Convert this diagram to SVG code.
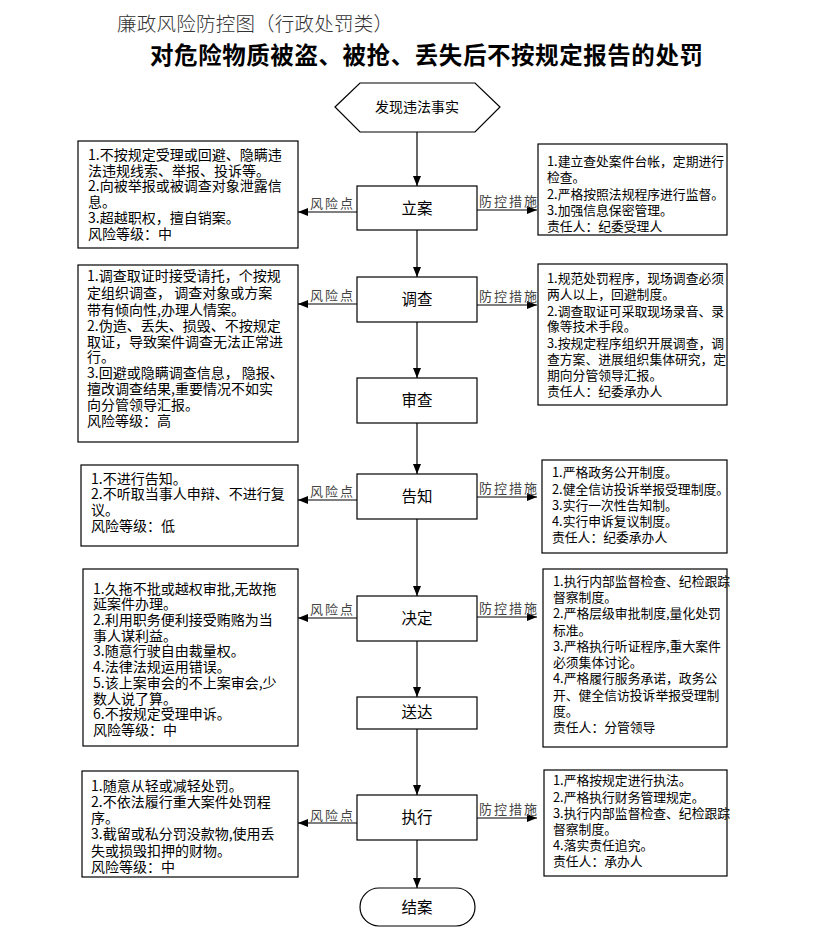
<svg xmlns="http://www.w3.org/2000/svg" width="823" height="942" viewBox="0 0 823 942">
<defs>
<marker id="ah" markerUnits="userSpaceOnUse" markerWidth="10" markerHeight="8" refX="10" refY="4" orient="auto">
<path d="M0,0 L10,4 L0,8 z" fill="#000"/>
</marker>
<style>
.box{fill:#fff;stroke:#000;stroke-width:1.2}
.ln{stroke:#000;stroke-width:1.2;fill:none;marker-end:url(#ah)}
.tl{font-family:"Noto Sans CJK SC","Noto Sans",sans-serif;font-size:14px;fill:#000}
.tr{font-family:"Noto Sans CJK SC","Noto Sans",sans-serif;font-size:12.8px;fill:#000}
.tc{font-family:"Noto Sans CJK SC","Noto Sans",sans-serif;font-size:15.5px;fill:#000;text-anchor:middle}
.lab{font-family:"Noto Sans CJK SC","Noto Sans",sans-serif;font-size:13px;fill:#444;letter-spacing:2px}
</style>
</defs>
<rect width="823" height="942" fill="#fff"/>
<g id="titles">
<text x="117" y="31" textLength="276" lengthAdjust="spacing" style="font-family:'Noto Sans CJK SC',sans-serif;font-size:19.5px;fill:#333;font-weight:300">廉政风险防控图（行政处罚类）</text>
<text x="150" y="64" textLength="553" lengthAdjust="spacing" style="font-family:'Noto Sans CJK SC',sans-serif;font-size:23.5px;fill:#000;font-weight:bold">对危险物质被盗、被抢、丢失后不按规定报告的处罚</text>
</g>
<g id="connectors">
<line class="ln" x1="417" y1="132" x2="417" y2="186"/>
<line class="ln" x1="417" y1="230" x2="417" y2="277"/>
<line class="ln" x1="417" y1="322" x2="417" y2="378"/>
<line class="ln" x1="417" y1="423" x2="417" y2="474"/>
<line class="ln" x1="417" y1="519" x2="417" y2="596"/>
<line class="ln" x1="417" y1="641" x2="417" y2="697"/>
<line class="ln" x1="417" y1="729" x2="417" y2="795"/>
<line class="ln" x1="417" y1="840" x2="417" y2="888"/>
<line class="ln" x1="357" y1="212" x2="298" y2="212"/>
<line class="ln" x1="477" y1="210" x2="537" y2="210"/>
<line class="ln" x1="357" y1="304" x2="298" y2="304"/>
<line class="ln" x1="477" y1="305" x2="537" y2="305"/>
<line class="ln" x1="357" y1="500" x2="298" y2="500"/>
<line class="ln" x1="477" y1="497" x2="537" y2="497"/>
<line class="ln" x1="357" y1="618" x2="298" y2="618"/>
<line class="ln" x1="477" y1="617" x2="537" y2="617"/>
<line class="ln" x1="357" y1="823" x2="298" y2="823"/>
<line class="ln" x1="477" y1="818" x2="537" y2="818"/>
<text class="lab" x="310" y="208">风险点</text>
<text class="lab" x="479" y="206">防控措施</text>
<text class="lab" x="310" y="300">风险点</text>
<text class="lab" x="479" y="301">防控措施</text>
<text class="lab" x="310" y="496">风险点</text>
<text class="lab" x="479" y="493">防控措施</text>
<text class="lab" x="310" y="614">风险点</text>
<text class="lab" x="479" y="613">防控措施</text>
<text class="lab" x="310" y="820">风险点</text>
<text class="lab" x="479" y="814">防控措施</text>
</g>
<g id="n_start">
<polygon class="box" points="335,107 360,83 475,83 500,107 475,132 360,132"/>
<text class="tc" x="417" y="112" style="font-size:14px">发现违法事实</text>
</g>
<g id="n_lian">
<rect class="box" x="357" y="186" width="120" height="44"/>
<text class="tc" x="417" y="214">立案</text>
</g>
<g id="n_diaocha">
<rect class="box" x="357" y="277" width="120" height="45"/>
<text class="tc" x="417" y="305">调查</text>
</g>
<g id="n_shencha">
<rect class="box" x="357" y="378" width="120" height="45"/>
<text class="tc" x="417" y="406">审查</text>
</g>
<g id="n_gaozhi">
<rect class="box" x="357" y="474" width="120" height="45"/>
<text class="tc" x="417" y="502">告知</text>
</g>
<g id="n_jueding">
<rect class="box" x="357" y="596" width="120" height="45"/>
<text class="tc" x="417" y="624">决定</text>
</g>
<g id="n_songda">
<rect class="box" x="357" y="697" width="120" height="32"/>
<text class="tc" x="417" y="718">送达</text>
</g>
<g id="n_zhixing">
<rect class="box" x="357" y="795" width="120" height="45"/>
<text class="tc" x="417" y="823">执行</text>
</g>
<g id="n_end">
<rect class="box" x="360" y="888" width="115" height="38" rx="19" ry="19"/>
<text class="tc" x="417" y="913">结案</text>
</g>
<g id="risk_lian">
<rect class="box" x="78" y="141" width="220" height="107"/>
<text class="tl"><tspan x="88" y="160">1.不按规定受理或回避、隐瞒违</tspan><tspan x="88" y="176">法违规线索、举报、投诉等。</tspan><tspan x="88" y="191">2.向被举报或被调查对象泄露信</tspan><tspan x="88" y="207">息。</tspan><tspan x="88" y="223">3.超越职权，擅自销案。</tspan><tspan x="88" y="239">风险等级：中</tspan></text>
</g>
<g id="risk_diaocha">
<rect class="box" x="78" y="265" width="220" height="177"/>
<text class="tl"><tspan x="87" y="281">1.调查取证时接受请托，个按规</tspan><tspan x="87" y="298">定组织调查， 调查对象或方案</tspan><tspan x="87" y="315">带有倾向性,办理人情案。</tspan><tspan x="87" y="331">2.伪造、丢失、损毁、不按规定</tspan><tspan x="87" y="347">取证，导致案件调查无法正常进</tspan><tspan x="87" y="362">行。</tspan><tspan x="87" y="378">3.回避或隐瞒调查信息， 隐报、</tspan><tspan x="87" y="394">擅改调查结果,重要情况不如实</tspan><tspan x="87" y="410">向分管领导汇报。</tspan><tspan x="87" y="426">风险等级：高</tspan></text>
</g>
<g id="risk_gaozhi">
<rect class="box" x="81" y="465" width="217" height="81"/>
<text class="tl"><tspan x="91" y="484">1.不进行告知。</tspan><tspan x="91" y="499">2.不听取当事人申辩、不进行复</tspan><tspan x="91" y="515">议。</tspan><tspan x="91" y="531">风险等级：低</tspan></text>
</g>
<g id="risk_jueding">
<rect class="box" x="83" y="569" width="215" height="177"/>
<text class="tl"><tspan x="93" y="594">1.久拖不批或越权审批,无故拖</tspan><tspan x="93" y="609">延案件办理。</tspan><tspan x="93" y="625">2.利用职务便利接受贿赂为当</tspan><tspan x="93" y="641">事人谋利益。</tspan><tspan x="93" y="656">3.随意行驶自由裁量权。</tspan><tspan x="93" y="672">4.法律法规运用错误。</tspan><tspan x="93" y="688">5.该上案审会的不上案审会,少</tspan><tspan x="93" y="704">数人说了算。</tspan><tspan x="93" y="719">6.不按规定受理申诉。</tspan><tspan x="93" y="735">风险等级：中</tspan></text>
</g>
<g id="risk_zhixing">
<rect class="box" x="82" y="771" width="216" height="106"/>
<text class="tl"><tspan x="91" y="791">1.随意从轻或减轻处罚。</tspan><tspan x="91" y="807">2.不依法履行重大案件处罚程</tspan><tspan x="91" y="823">序。</tspan><tspan x="91" y="839">3.截留或私分罚没款物,使用丢</tspan><tspan x="91" y="856">失或损毁扣押的财物。</tspan><tspan x="91" y="872">风险等级：中</tspan></text>
</g>
<g id="ctrl_lian">
<rect class="box" x="538" y="144" width="189" height="91"/>
<text class="tr"><tspan x="547" y="166">1.建立查处案件台帐，定期进行</tspan><tspan x="547" y="182">检查。</tspan><tspan x="547" y="199">2.严格按照法规程序进行监督。</tspan><tspan x="547" y="215">3.加强信息保密管理。</tspan><tspan x="547" y="231">责任人：纪委受理人</tspan></text>
</g>
<g id="ctrl_diaocha">
<rect class="box" x="538" y="264" width="189" height="141"/>
<text class="tr"><tspan x="547" y="283">1.规范处罚程序，现场调查必须</tspan><tspan x="547" y="299">两人以上，回避制度。</tspan><tspan x="547" y="316">2.调查取证可采取现场录音、录</tspan><tspan x="547" y="331">像等技术手段。</tspan><tspan x="547" y="348">3.按规定程序组织开展调查，调</tspan><tspan x="547" y="364">查方案、进展组织集体研究，定</tspan><tspan x="547" y="380">期向分管领导汇报。</tspan><tspan x="547" y="396">责任人：纪委承办人</tspan></text>
</g>
<g id="ctrl_gaozhi">
<rect class="box" x="542" y="460" width="185" height="93"/>
<text class="tr"><tspan x="552" y="477">1.严格政务公开制度。</tspan><tspan x="552" y="494">2.健全信访投诉举报受理制度。</tspan><tspan x="552" y="510">3.实行一次性告知制。</tspan><tspan x="552" y="526">4.实行申诉复议制度。</tspan><tspan x="552" y="542">责任人：纪委承办人</tspan></text>
</g>
<g id="ctrl_jueding">
<rect class="box" x="543" y="569" width="184" height="178"/>
<text class="tr"><tspan x="553" y="586">1.执行内部监督检查、纪检跟踪</tspan><tspan x="553" y="602">督察制度。</tspan><tspan x="553" y="618">2.严格层级审批制度,量化处罚</tspan><tspan x="553" y="635">标准。</tspan><tspan x="553" y="651">3.严格执行听证程序,重大案件</tspan><tspan x="553" y="667">必须集体讨论。</tspan><tspan x="553" y="683">4.严格履行服务承诺，政务公</tspan><tspan x="553" y="700">开、健全信访投诉举报受理制</tspan><tspan x="553" y="716">度。</tspan><tspan x="553" y="732">责任人：分管领导</tspan></text>
</g>
<g id="ctrl_zhixing">
<rect class="box" x="544" y="770" width="183" height="106"/>
<text class="tr"><tspan x="553" y="785">1.严格按规定进行执法。</tspan><tspan x="553" y="802">2.严格执行财务管理规定。</tspan><tspan x="553" y="818">3.执行内部监督检查、纪检跟踪</tspan><tspan x="553" y="834">督察制度。</tspan><tspan x="553" y="850">4.落实责任追究。</tspan><tspan x="553" y="866">责任人：承办人</tspan></text>
</g>
</svg>
